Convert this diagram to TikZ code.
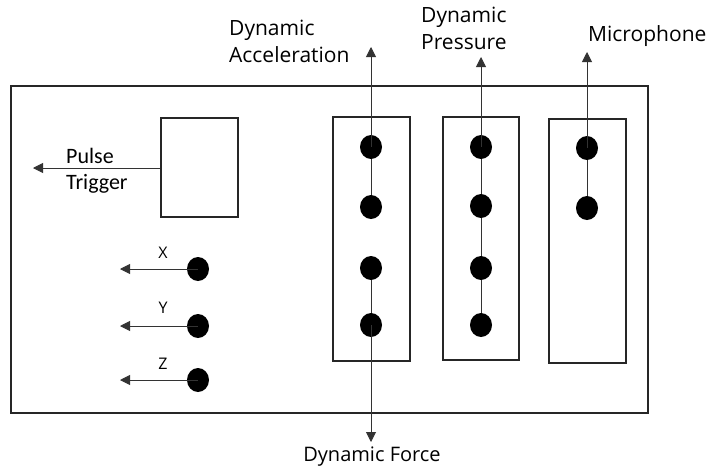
\documentclass[tikz,border=0pt]{standalone}
\usepackage{fontspec}
\setmainfont{Open Sans}
\newfontfamily\labelfont{Open Sans}
\newfontfamily\trigfont{Carlito}
\usetikzlibrary{arrows.meta,shapes.geometric}
\begin{document}
\begin{tikzpicture}[x=1pt,y=-1pt,
  frame/.style={draw=black!85, line width=1.8pt},
  panel/.style={draw=black!85, line width=1.4pt},
  sensor/.style={ellipse, fill=black, inner sep=0pt, minimum width=22pt, minimum height=24pt},
  wire/.style={draw=black!80, line width=0.9pt},
  signal/.style={wire, -{Triangle[width=10pt,length=10pt]}},
  lbl/.style={font=\labelfont\fontsize{21}{27}\selectfont, inner sep=0pt, text=black},
  axis/.style={font=\labelfont\fontsize{16}{18}\selectfont, inner sep=0pt, text=black}
]
\useasboundingbox[fill=white] (0,0) rectangle (714,472);

% enclosure and panels
\draw[frame] (11,86) rectangle (648,413);
\node[panel, draw, minimum width=77pt, minimum height=99pt, inner sep=0pt] (pulse) at (199.5,167.5) {};
\draw[panel] (333,117) rectangle (410,361);
\draw[panel] (443,117) rectangle (519,360);
\draw[panel] (549,119) rectangle (626,363);

% sensors: acceleration / force column
\node[sensor] (a1) at (371,147) {};
\node[sensor] (a2) at (371,207) {};
\node[sensor] (a3) at (371,268) {};
\node[sensor] (a4) at (371,325) {};
% pressure column
\node[sensor] (p1) at (481,147) {};
\node[sensor] (p2) at (481,206) {};
\node[sensor] (p3) at (481,268) {};
\node[sensor] (p4) at (481,325) {};
% microphone column
\node[sensor] (m1) at (587,148) {};
\node[sensor] (m2) at (587,208) {};
% axis sensors
\node[sensor] (sx) at (198,269) {};
\node[sensor] (sy) at (198,326) {};
\node[sensor] (sz) at (198,380) {};

% free ends of the outputs
\coordinate (accOut) at (371,47);
\coordinate (forceOut) at (371,442);
\coordinate (presOut) at (481,57);
\coordinate (micOut) at (587,52);
\coordinate (pulseOut) at (33,168);
\coordinate (xOut) at (120,269);
\coordinate (yOut) at (120,326);
\coordinate (zOut) at (120,380);

% internal wiring
\draw[wire] (a1) -- (a2);
\draw[wire] (a3) -- (a4);
\draw[wire] (p1) -- (p2) -- (p3) -- (p4);
\draw[wire] (m1) -- (m2);

% outputs
\draw[signal] (a1.center) -- (accOut);
\draw[signal] (a4.center) -- (forceOut);
\draw[signal] (p1.center) -- (presOut);
\draw[signal] (m1.center) -- (micOut);
\draw[signal] (pulse.west |- pulseOut) -- (pulseOut);
\draw[signal] (sx.center) -- (xOut);
\draw[signal] (sy.center) -- (yOut);
\draw[signal] (sz.center) -- (zOut);

% labels
\node[lbl, align=left, anchor=north west] (accL) at (229,20) {Dynamic\\Acceleration};
\node[lbl, align=left, anchor=north west] (presL) at (421,7) {Dynamic\\Pressure};
\node[lbl, anchor=north west] (micL) at (588,25) {Microphone};
\node[lbl, font=\labelfont\fontsize{20}{26}\selectfont, anchor=north] (forceL) at (372,447) {Dynamic Force};
\node[lbl, font=\trigfont\fontsize{22}{26}\selectfont, align=left, anchor=north west] (pulseL) at (66,148) {Pulse\\Trigger};
\node[axis] (xL) at (163,253) {X};
\node[axis] (yL) at (163,308) {Y};
\node[axis] (zL) at (163,364) {Z};
\end{tikzpicture}
\end{document}
